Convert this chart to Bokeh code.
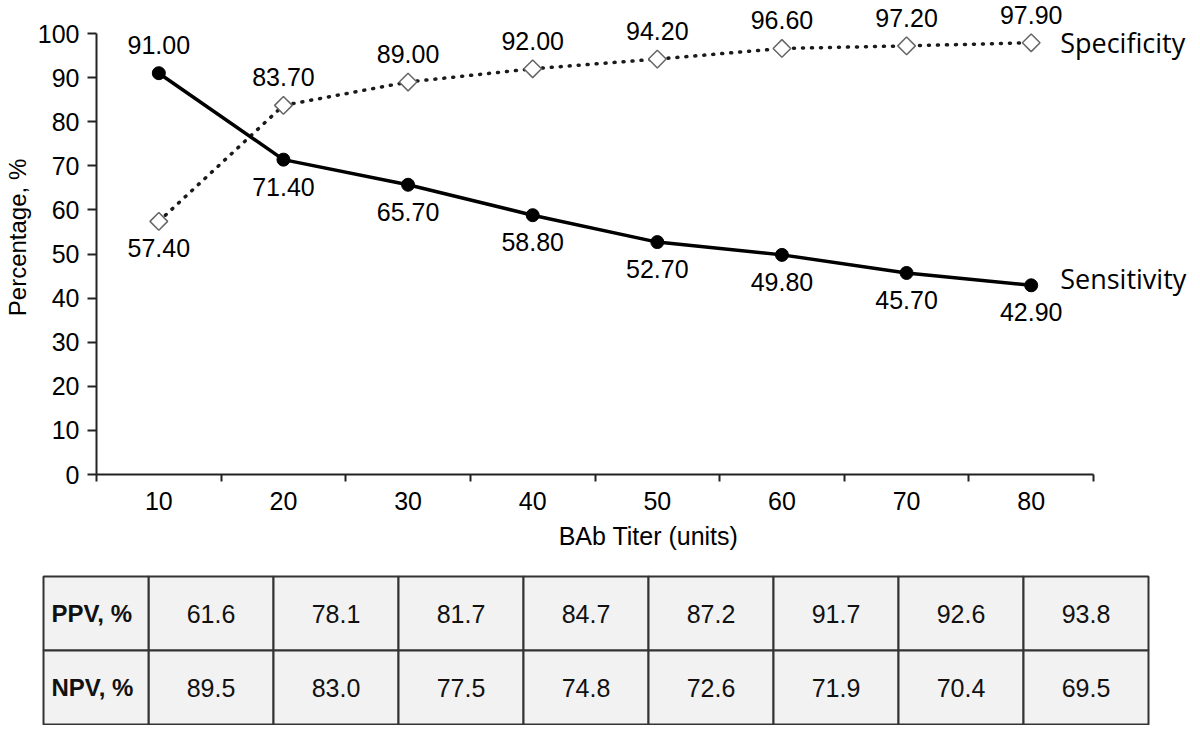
from bokeh.plotting import figure
from bokeh.models import Range1d, FixedTicker, LabelSet, ColumnDataSource
from bokeh.core.properties import value
from bokeh.embed import file_html
from bokeh.resources import INLINE

# ---- data ----
titers = [10, 20, 30, 40, 50, 60, 70, 80]
sensitivity = [91.00, 71.40, 65.70, 58.80, 52.70, 49.80, 45.70, 42.90]
specificity = [57.40, 83.70, 89.00, 92.00, 94.20, 96.60, 97.20, 97.90]
series_names = ["Sensitivity", "Specificity"]
y_ticks = [0, 10, 20, 30, 40, 50, 60, 70, 80, 90, 100]
row_labels = ["PPV, %", "NPV, %"]
ppv = [61.6, 78.1, 81.7, 84.7, 87.2, 91.7, 92.6, 93.8]
npv = [89.5, 83.0, 77.5, 74.8, 72.6, 71.9, 70.4, 69.5]

FONT = "Liberation Sans"
FS = "25px"
W = 1200
H1 = 565
step = titers[1] - titers[0]
half = step / 2
x_lo, x_hi = titers[0] - half, titers[-1] + half
y_lo, y_hi = y_ticks[0], y_ticks[-1]

# pixel layout of the chart frame
ax_left_px, ax_right_px = 96, 1093
ax_top_px, ax_bottom_px = 33, 474
xppu = (ax_right_px - ax_left_px) / (x_hi - x_lo)
yppu = (ax_bottom_px - ax_top_px) / (y_hi - y_lo)
x_end = x_hi + (W - ax_right_px) / xppu
y_end = y_hi + ax_top_px / yppu

# ---- chart ----
p = figure(width=W, height=H1, x_range=Range1d(x_lo, x_end), y_range=Range1d(y_lo, y_end),
           output_backend="svg", toolbar_location=None,
           min_border_left=ax_left_px, min_border_right=0, min_border_top=0,
           min_border_bottom=H1 - ax_bottom_px)
p.outline_line_color = None
p.grid.visible = False
p.background_fill_color = "white"

xa = p.xaxis[0]
xa.bounds = (x_lo, x_hi)
xa.ticker = FixedTicker(ticks=titers, minor_ticks=[t - half for t in titers] + [x_hi])
xa.major_tick_out = 0
xa.major_tick_in = 0
xa.minor_tick_out = 7
xa.minor_tick_in = 0
xa.minor_tick_line_color = "#222"
xa.minor_tick_line_width = 2
xa.axis_line_color = "#222"
xa.axis_line_width = 2
xa.major_label_text_font = FONT
xa.major_label_text_font_size = FS
xa.major_label_text_color = "black"
xa.major_label_standoff = 10
xa.axis_label = "BAb Titer (units)"
xa.axis_label_text_font = FONT
xa.axis_label_text_font_size = FS
xa.axis_label_text_font_style = "normal"
xa.axis_label_text_color = "black"
xa.axis_label_standoff = 9

ya = p.yaxis[0]
ya.bounds = (y_lo, y_hi)
ya.ticker = FixedTicker(ticks=y_ticks)
ya.major_tick_out = 9
ya.major_tick_in = 0
ya.major_tick_line_color = "#222"
ya.major_tick_line_width = 2
ya.minor_tick_line_color = None
ya.axis_line_color = "#222"
ya.axis_line_width = 2
ya.major_label_text_font = FONT
ya.major_label_text_font_size = FS
ya.major_label_text_color = "black"
ya.major_label_standoff = 8
ya.axis_label = "Percentage, %"
ya.axis_label_text_font = FONT
ya.axis_label_text_font_size = "24px"
ya.axis_label_text_font_style = "normal"
ya.axis_label_text_color = "black"
ya.axis_label_standoff = 4

p.line(titers, specificity, line_color="#1a1a1a", line_width=3.5, line_dash="1 8", line_cap="round")
p.scatter(titers, specificity, marker="square", angle=0.785398, size=12.5,
          fill_color="white", line_color="#666", line_width=1.5)
p.line(titers, sensitivity, line_color="black", line_width=3.5)
p.scatter(titers, sensitivity, marker="circle", size=13, fill_color="black", line_color="black")

above, below = 28, -27
sens_off = [above if a > b else below for a, b in zip(sensitivity, specificity)]
spec_off = [above if b > a else below for a, b in zip(sensitivity, specificity)]
lab_src = ColumnDataSource(dict(
    x=titers + titers,
    y=sensitivity + specificity,
    text=[f"{v:.2f}" for v in sensitivity + specificity],
    off=sens_off + spec_off,
))
p.add_layout(LabelSet(x="x", y="y", text="text", y_offset="off", source=lab_src,
                      text_align="center", text_baseline="middle",
                      text_font=value(FONT), text_font_size=value(FS), text_color="black"))

name_src = ColumnDataSource(dict(
    x=[titers[-1], titers[-1]],
    y=[sensitivity[-1], specificity[-1]],
    text=series_names,
    off=[7, 0],
))
p.add_layout(LabelSet(x="x", y="y", text="text", x_offset=29, y_offset="off", source=name_src,
                      text_align="left", text_baseline="middle",
                      text_font=value("Open Sans"), text_font_size=value("27px"), text_color="black"))

# ---- table ----
col_px = 125.0
label_px = 105.0
table_left_px = 43.0
px_u = col_px / step
tx0 = x_lo - (label_px + table_left_px) / px_u
row_px = 74.0
H2 = 160
top_pad = 11.0
ty_end = 1.5 + top_pad / row_px
ty_start = ty_end - H2 / row_px

p2 = figure(width=W, height=H2, x_range=Range1d(tx0, tx0 + W / px_u), y_range=Range1d(ty_start, ty_end),
            output_backend="svg", toolbar_location=None, x_axis_type=None, y_axis_type=None,
            min_border=0)
p2.outline_line_color = None
p2.grid.visible = False

rows_y = [1, 0]
cell_x, cell_y, cell_t = [], [], []
for ry, vals in zip(rows_y, [ppv, npv]):
    for t, v in zip(titers, vals):
        cell_x.append(t)
        cell_y.append(ry)
        cell_t.append(f"{v:.1f}")
cells = ColumnDataSource(dict(x=cell_x, y=cell_y, text=cell_t))
p2.rect(x="x", y="y", width=step, height=1, source=cells,
        fill_color="#f2f2f2", line_color="#333", line_width=2)
lab_left = x_lo - label_px / px_u
p2.quad(left=[lab_left] * 2, right=[x_lo] * 2, top=[r + 0.5 for r in rows_y],
        bottom=[r - 0.5 for r in rows_y], fill_color="#f2f2f2", line_color="#333", line_width=2)
p2.text(x="x", y="y", text="text", source=cells, text_align="center", text_baseline="middle",
        text_font=value(FONT), text_font_size=value(FS), text_color="#111")
p2.text(x=[lab_left + 8 / px_u] * 2, y=rows_y, text=row_labels, text_align="left",
        text_baseline="middle", text_font=value(FONT), text_font_size=value("24px"),
        text_font_style="bold", text_color="#111")

open("out.html", "w").write(file_html([p, p2], INLINE))
